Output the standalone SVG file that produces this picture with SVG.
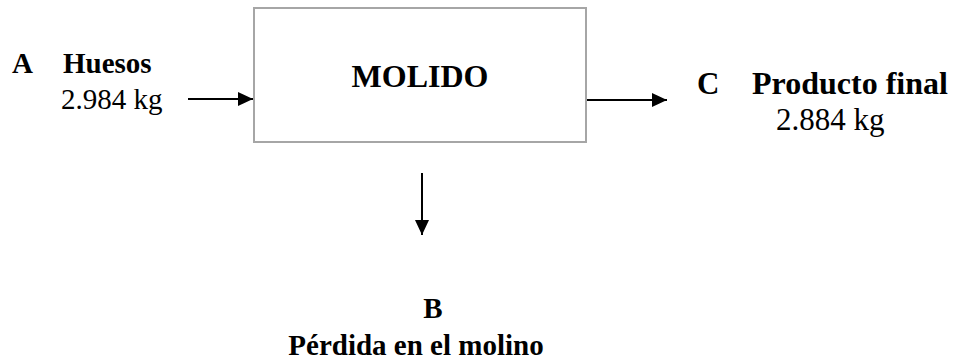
<svg xmlns="http://www.w3.org/2000/svg" width="953" height="364" viewBox="0 0 953 364">
<style>
text{font-family:"Liberation Serif","Times New Roman",serif;fill:#000}
.b{font-weight:bold}
.box{fill:#fff;stroke:#a6a6a6;stroke-width:2}
.c{stroke:#000;stroke-width:2;fill:none}
</style>
<defs>
<marker id="ah" markerWidth="15" markerHeight="14" refX="15" refY="7" orient="auto" markerUnits="userSpaceOnUse">
<path d="M0,0 L15,7 L0,14 Z" fill="#000"/>
</marker>
</defs>
<rect width="953" height="364" fill="#fff"/>
<g id="connectors">
<line class="c" x1="188" y1="99" x2="253" y2="99" marker-end="url(#ah)"/>
<line class="c" x1="587" y1="100" x2="667" y2="100" marker-end="url(#ah)"/>
<line class="c" x1="422" y1="173" x2="422" y2="235" marker-end="url(#ah)"/>
</g>
<g id="molido">
<rect class="box" x="254" y="8" width="332" height="134"/>
<text class="b" x="420" y="87" font-size="32" text-anchor="middle" font-family="Liberation Serif, serif">MOLIDO</text>
</g>
<g id="A">
<text class="b" x="12" y="73" font-size="29" font-family="Liberation Serif, serif">A</text>
<text class="b" x="63" y="73" font-size="29" font-family="Liberation Serif, serif">Huesos</text>
<text x="61" y="109" font-size="29" font-family="Liberation Serif, serif">2.984 kg</text>
</g>
<g id="C">
<text class="b" x="697" y="94" font-size="31" font-family="Liberation Serif, serif">C</text>
<text class="b" x="752" y="94" font-size="32" font-family="Liberation Serif, serif">Producto final</text>
<text x="776" y="130" font-size="31" font-family="Liberation Serif, serif">2.884 kg</text>
</g>
<g id="B">
<text class="b" x="433" y="318" font-size="29" text-anchor="middle" font-family="Liberation Serif, serif">B</text>
<text class="b" x="416" y="355" font-size="29" text-anchor="middle" font-family="Liberation Serif, serif">Pérdida en el molino</text>
</g>
</svg>
